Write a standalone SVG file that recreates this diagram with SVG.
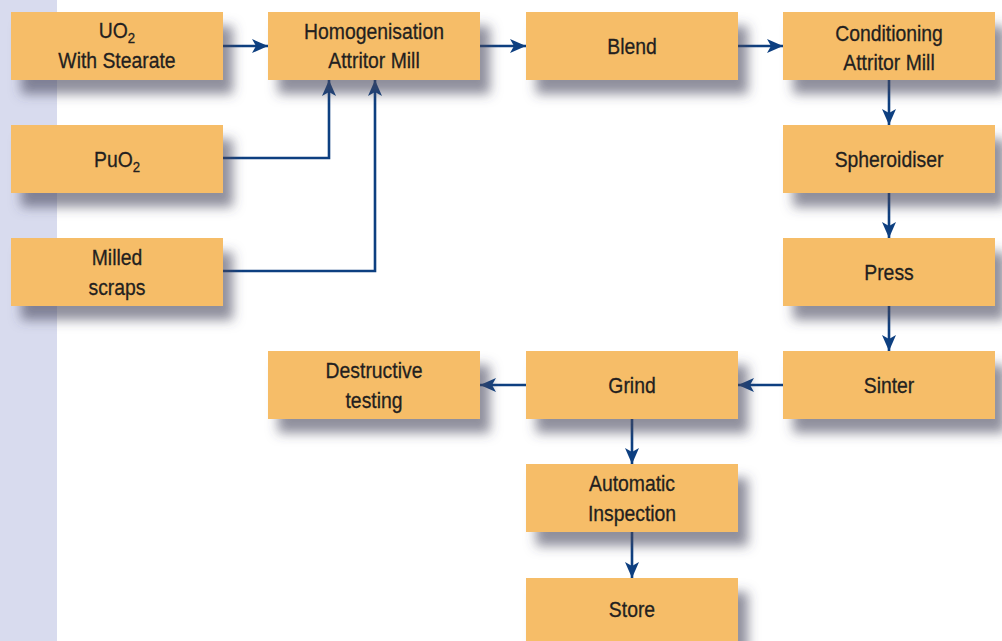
<svg xmlns="http://www.w3.org/2000/svg" width="1002" height="641" viewBox="0 0 1002 641">
<defs>
<style>
.box{fill:#f6bd67;filter:url(#sh)}
.t{font-family:"Liberation Sans",Arial,sans-serif;font-size:22px;fill:#231f20;stroke:#231f20;stroke-width:0.3;text-anchor:middle}
.sub{font-size:15px}
.c{fill:none;stroke:#0d3f80;stroke-width:2.6}
</style>
<filter id="sh" x="-20%" y="-30%" width="150%" height="200%">
<feDropShadow dx="10" dy="14" stdDeviation="6" flood-color="#45455c" flood-opacity="0.6"/>
</filter>
<marker id="ah" viewBox="0 0 16 14" refX="16" refY="7" markerWidth="16" markerHeight="14" markerUnits="userSpaceOnUse" orient="auto">
<path d="M0,0 L16,7 L0,14 L4,7 Z" fill="#0d3f80"/>
</marker>
</defs>
<rect x="0" y="0" width="1002" height="641" fill="#ffffff"/>
<rect x="0" y="0" width="57" height="641" fill="#d8dbee"/>

<g id="connectors">
<line class="c" x1="223" y1="46" x2="268" y2="46" marker-end="url(#ah)"/>
<line class="c" x1="480" y1="46" x2="526" y2="46" marker-end="url(#ah)"/>
<line class="c" x1="738" y1="46" x2="783" y2="46" marker-end="url(#ah)"/>
<line class="c" x1="889" y1="80" x2="889" y2="125" marker-end="url(#ah)"/>
<line class="c" x1="889" y1="193" x2="889" y2="238" marker-end="url(#ah)"/>
<line class="c" x1="889" y1="306" x2="889" y2="351" marker-end="url(#ah)"/>
<line class="c" x1="783" y1="385" x2="738" y2="385" marker-end="url(#ah)"/>
<line class="c" x1="526" y1="385" x2="480" y2="385" marker-end="url(#ah)"/>
<line class="c" x1="632" y1="419" x2="632" y2="464" marker-end="url(#ah)"/>
<line class="c" x1="632" y1="532" x2="632" y2="578" marker-end="url(#ah)"/>
<polyline class="c" points="223,158 329,158 329,80" marker-end="url(#ah)"/>
<polyline class="c" points="223,271 375,271 375,80" marker-end="url(#ah)"/>
</g>

<g id="uo2">
<rect class="box" x="11" y="12" width="212" height="68"/>
<g transform="translate(117,0) scale(0.88,1)"><text class="t" x="0" y="38">UO<tspan class="sub" dy="5">2</tspan></text><text class="t" x="0" y="68">With Stearate</text></g>
</g>
<g id="homogenisation">
<rect class="box" x="268" y="12" width="212" height="68"/>
<g transform="translate(374,0) scale(0.88,1)"><text class="t" x="0" y="39">Homogenisation</text><text class="t" x="0" y="68">Attritor Mill</text></g>
</g>
<g id="blend">
<rect class="box" x="526" y="12" width="212" height="68"/>
<g transform="translate(632,0) scale(0.88,1)"><text class="t" x="0" y="54">Blend</text></g>
</g>
<g id="conditioning">
<rect class="box" x="783" y="12" width="212" height="68"/>
<g transform="translate(889,0) scale(0.88,1)"><text class="t" x="0" y="41">Conditioning</text><text class="t" x="0" y="70">Attritor Mill</text></g>
</g>
<g id="puo2">
<rect class="box" x="11" y="125" width="212" height="68"/>
<g transform="translate(117,0) scale(0.88,1)"><text class="t" x="0" y="167">PuO<tspan class="sub" dy="5">2</tspan></text></g>
</g>
<g id="milled">
<rect class="box" x="11" y="238" width="212" height="68"/>
<g transform="translate(117,0) scale(0.88,1)"><text class="t" x="0" y="265">Milled</text><text class="t" x="0" y="295">scraps</text></g>
</g>
<g id="spheroidiser">
<rect class="box" x="783" y="125" width="212" height="68"/>
<g transform="translate(889,0) scale(0.88,1)"><text class="t" x="0" y="167">Spheroidiser</text></g>
</g>
<g id="press">
<rect class="box" x="783" y="238" width="212" height="68"/>
<g transform="translate(889,0) scale(0.88,1)"><text class="t" x="0" y="280">Press</text></g>
</g>
<g id="sinter">
<rect class="box" x="783" y="351" width="212" height="68"/>
<g transform="translate(889,0) scale(0.88,1)"><text class="t" x="0" y="393">Sinter</text></g>
</g>
<g id="grind">
<rect class="box" x="526" y="351" width="212" height="68"/>
<g transform="translate(632,0) scale(0.88,1)"><text class="t" x="0" y="393">Grind</text></g>
</g>
<g id="destructive">
<rect class="box" x="268" y="351" width="212" height="68"/>
<g transform="translate(374,0) scale(0.88,1)"><text class="t" x="0" y="378">Destructive</text><text class="t" x="0" y="408">testing</text></g>
</g>
<g id="inspection">
<rect class="box" x="526" y="464" width="212" height="68"/>
<g transform="translate(632,0) scale(0.88,1)"><text class="t" x="0" y="491">Automatic</text><text class="t" x="0" y="521">Inspection</text></g>
</g>
<g id="store">
<rect class="box" x="526" y="578" width="212" height="68"/>
<g transform="translate(632,0) scale(0.88,1)"><text class="t" x="0" y="617">Store</text></g>
</g>
</svg>
